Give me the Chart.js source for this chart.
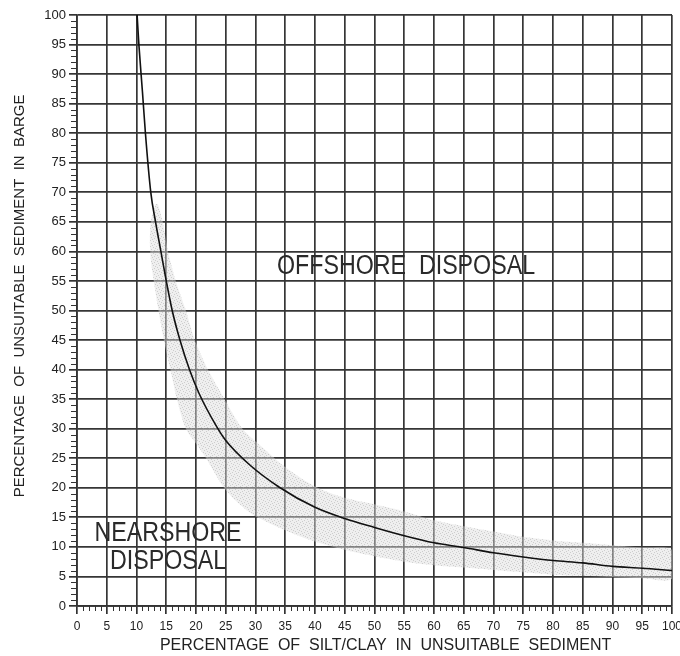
<!DOCTYPE html>
<html>
<head>
    <title>Silt/clay disposal chart</title>
    <script src="https://cdn.jsdelivr.net/npm/chart.js"></script>
    <style>
        body {
            margin: 0;
            background: #fff;
        }
    </style>
</head>
<body>
    <canvas id="disposalChart" width="680" height="656"></canvas>

    <script>
        // Кривая раздела (читается с рисунка)
        const curveX = [10.1, 10.4, 11.0, 11.5, 12.4, 13.2, 14.1, 15.0, 16.0, 17.3, 18.9, 20.5, 23.5, 25.0, 29.0, 34.0, 40.0, 45.0, 50.0, 55.0, 60.0, 65.0, 70.0, 75.0, 80.0, 85.0, 90.0, 95.0, 100];
        const curveY = [100, 95, 87, 80, 70, 65, 60, 55, 50, 45, 40, 36, 30.3, 28.0, 23.9, 20.1, 16.7, 14.8, 13.3, 11.9, 10.7, 9.9, 9.0, 8.3, 7.7, 7.3, 6.7, 6.4, 6.0];

        // Серая полоса разброса: нижняя/левая граница и верхняя/правая граница
        const bandLowerX = [13.2, 12.4, 12.3, 12.9, 13.7, 14.6, 15.7, 16.8, 18.3, 20.0, 21.7, 24.7, 27.0, 29.5, 34.6, 40.0, 45.0, 50.0, 55.0, 60.0, 65.0, 70.0, 75.0, 80.0, 85.0, 90.0, 95.0, 100];
        const bandLowerY = [68, 65, 60, 55, 50, 45, 40, 35, 30, 27.5, 25, 20, 17.5, 15.5, 13.0, 10.9, 9.5, 8.4, 7.5, 6.9, 6.5, 6.1, 5.7, 5.3, 5.1, 4.9, 4.7, 4.6];
        const bandUpperX = [13.6, 14.4, 15.3, 16.6, 18.3, 19.8, 22.0, 24.8, 27.8, 31.0, 35.0, 40.0, 45.0, 50.0, 55.0, 60.0, 65.0, 70.0, 75.0, 80.0, 85.0, 90.0, 95.0, 100];
        const bandUpperY = [68, 65, 60, 55, 50, 45, 40, 35, 30, 27, 23.5, 20.2, 18.3, 17.2, 16.0, 14.5, 13.5, 12.6, 11.7, 11.1, 10.7, 10.3, 9.9, 9.5];

        const tickValues = [0, 5, 10, 15, 20, 25, 30, 35, 40, 45, 50, 55, 60, 65, 70, 75, 80, 85, 90, 95, 100];

        // Надписи областей
        const regionLabels = [
            { lines: ['OFFSHORE  DISPOSAL'], x: 55.3, y: 57.5 },
            { lines: ['NEARSHORE', 'DISPOSAL'], x: 15.3, y: 12.2 }
        ];

        const curvePoints = curveX.map((x, i) => ({ x, y: curveY[i] }));
        const bandPoints = bandLowerX.map((x, i) => ({ x, y: bandLowerY[i] }))
            .concat(bandUpperX.map((x, i) => ({ x, y: bandUpperY[i] })).reverse());

        function stipple() {
            const c = document.createElement('canvas');
            c.width = 6; c.height = 6;
            const g = c.getContext('2d');
            g.fillStyle = 'rgba(220,220,220,0.45)';
            g.fillRect(0, 0, 6, 6);
            g.fillStyle = 'rgba(165,165,165,0.45)';
            [[0, 0], [3, 1], [1, 3], [4, 4], [2, 5], [5, 2]].forEach(([a, b]) => g.fillRect(a, b, 1, 1));
            return g.createPattern(c, 'repeat');
        }

        // мелкие деления на осях
        const minorTicks = {
            id: 'minorTicks',
            afterDraw(chart) {
                const { ctx, scales: { x, y } } = chart;
                ctx.save();
                ctx.strokeStyle = '#333';
                ctx.lineWidth = 1;
                for (let v = 0; v <= 100; v++) {
                    if (v % 5 === 0) continue;
                    const px = Math.round(x.getPixelForValue(v)) + 0.5;
                    ctx.beginPath();
                    ctx.moveTo(px, y.bottom);
                    ctx.lineTo(px, y.bottom + 5);
                    ctx.stroke();
                    const py = Math.round(y.getPixelForValue(v)) + 0.5;
                    ctx.beginPath();
                    ctx.moveTo(x.left - 6, py);
                    ctx.lineTo(x.left, py);
                    ctx.stroke();
                }
                ctx.restore();
            }
        };

        const regionText = {
            id: 'regionText',
            afterDatasetsDraw(chart) {
                const { ctx, scales: { x, y } } = chart;
                ctx.save();
                ctx.fillStyle = '#2a2a2a';
                ctx.font = "27px 'Liberation Sans', Arial, sans-serif";
                ctx.textAlign = 'center';
                ctx.textBaseline = 'middle';
                regionLabels.forEach(lbl => {
                    const cx = x.getPixelForValue(lbl.x);
                    const cy = y.getPixelForValue(lbl.y);
                    lbl.lines.forEach((t, i) => {
                        ctx.save();
                        ctx.translate(cx, cy + i * 28);
                        ctx.scale(0.86, 1);
                        ctx.fillText(t, 0, 0);
                        ctx.restore();
                    });
                });
                ctx.restore();
            }
        };

        Chart.defaults.font.family = "'Liberation Sans', Arial, sans-serif";

        const axisCommon = {
            type: 'linear',
            min: 0,
            max: 100,
            afterBuildTicks: s => { s.ticks = tickValues.map(v => ({ value: v })); },
            grid: { color: '#363636', lineWidth: 1.7, tickLength: 8, tickColor: '#333' },
            border: { color: '#333', width: 1.7 }
        };

        const ctx = document.getElementById('disposalChart');
        new Chart(ctx, {
            type: 'line',
            data: {
                datasets: [
                    {
                        data: curvePoints,
                        order: 1,
                        borderColor: '#111',
                        borderWidth: 1.6,
                        fill: false,
                        pointRadius: 0,
                        cubicInterpolationMode: 'monotone'
                    },
                    {
                        data: bandPoints,
                        order: 2,
                        borderWidth: 0,
                        borderColor: 'rgba(0,0,0,0)',
                        backgroundColor: stipple(),
                        fill: 'shape',
                        pointRadius: 0,
                        tension: 0.3
                    }
                ]
            },
            options: {
                responsive: false,
                animation: false,
                layout: { padding: { top: 15, right: 8, left: 0, bottom: 0 } },
                plugins: {
                    legend: { display: false },
                    tooltip: { enabled: false }
                },
                scales: {
                    x: {
                        ...axisCommon,
                        ticks: { color: '#222', font: { size: 12 }, padding: 5, maxRotation: 0, autoSkip: false },
                        title: {
                            display: true,
                            text: '     PERCENTAGE  OF  SILT/CLAY  IN  UNSUITABLE  SEDIMENT',
                            color: '#222',
                            font: { size: 16 },
                            padding: { top: 0, bottom: 1 }
                        },
                        afterFit: s => {
                            s.height = 50;
                            s.paddingLeft = 0;
                            s.paddingRight = 0;
                        }
                    },
                    y: {
                        ...axisCommon,
                        ticks: { color: '#222', font: { size: 13 }, padding: 3, autoSkip: false },
                        title: {
                            display: true,
                            text: '       PERCENTAGE  OF  UNSUITABLE  SEDIMENT  IN  BARGE',
                            color: '#222',
                            font: { size: 15 },
                            padding: { top: 11, bottom: 0 }
                        },
                        afterFit: s => { s.width = 77; }
                    }
                }
            },
            plugins: [minorTicks, regionText]
        });
    </script>
</body>
</html>
